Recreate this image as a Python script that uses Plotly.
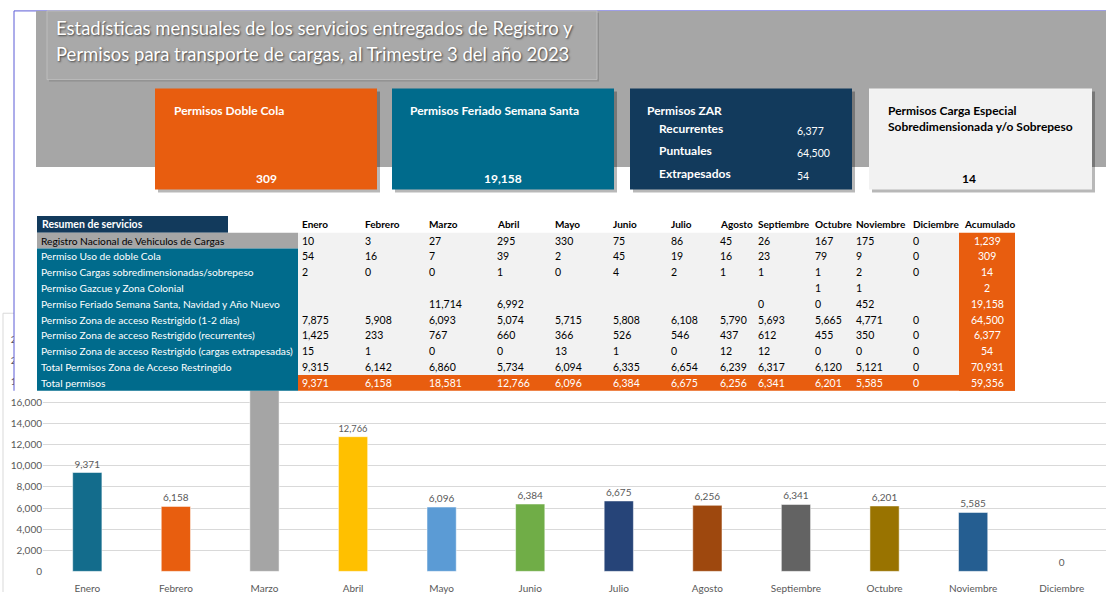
import plotly.graph_objects as go

W, H = 1106, 597

# ---------------- DATA ----------------
months = ["Enero", "Febrero", "Marzo", "Abril", "Mayo", "Junio", "Julio",
          "Agosto", "Septiembre", "Octubre", "Noviembre", "Diciembre"]

row_labels = [
    "Registro Nacional de Vehiculos de Cargas",
    "Permiso Uso de doble Cola",
    "Permiso Cargas sobredimensionadas/sobrepeso",
    "Permiso Gazcue y Zona Colonial",
    "Permiso Feriado Semana Santa, Navidad y Año Nuevo",
    "Permiso Zona de acceso Restrigido (1-2 días)",
    "Permiso Zona de acceso Restrigido (recurrentes)",
    "Permiso Zona de acceso Restrigido (cargas extrapesadas)",
    "Total Permisos Zona de Acceso Restringido",
    "Total permisos",
]

registro_nacional = [10, 3, 27, 295, 330, 75, 86, 45, 26, 167, 175, 0]
doble_cola = [54, 16, 7, 39, 2, 45, 19, 16, 23, 79, 9, 0]
sobredimensionadas = [2, 0, 0, 1, 0, 4, 2, 1, 1, 1, 2, 0]
gazcue = [None, None, None, None, None, None, None, None, None, 1, 1, None]
feriado = [None, None, 11714, 6992, None, None, None, None, 0, 0, 452, None]
zar_1_2_dias = [7875, 5908, 6093, 5074, 5715, 5808, 6108, 5790, 5693, 5665, 4771, 0]
zar_recurrentes = [1425, 233, 767, 660, 366, 526, 546, 437, 612, 455, 350, 0]
zar_extrapesadas = [15, 1, 0, 0, 13, 1, 0, 12, 12, 0, 0, 0]
total_zar = [9315, 6142, 6860, 5734, 6094, 6335, 6654, 6239, 6317, 6120, 5121, 0]
total_permisos = [9371, 6158, 18581, 12766, 6096, 6384, 6675, 6256, 6341, 6201, 5585, 0]

acumulado = [1239, 309, 14, 2, 19158, 64500, 6377, 54, 70931, 59356]

title_lines = ["Estadísticas mensuales de los servicios entregados de Registro y",
               "Permisos para transporte de cargas, al Trimestre 3 del año 2023"]

# ---------------- STYLE ----------------
FONT = "Lato, sans-serif"
bar_colors = ["#136C8C", "#E85E0F", "#A5A5A5", "#FFC000", "#5B9BD5", "#70AD47",
              "#264478", "#9E480E", "#636363", "#997300", "#255E91", "#698ED0"]
ORANGE = "#E85D0F"
TEAL = "#006B8C"
NAVY = "#123A5C"
PANEL = "#A6A6A6"
LIGHT = "#F2F2F2"


def px(x):
    return x / W


def py(y):
    return 1 - y / H


shapes = []
annotations = []


def rect(x0, y0, x1, y1, fill, line_color=None, line_width=0, layer="above"):
    shapes.append(dict(type="rect", xref="paper", yref="paper",
                       x0=px(x0), x1=px(x1), y0=py(y1), y1=py(y0),
                       fillcolor=fill, layer=layer,
                       line=dict(color=line_color or fill, width=line_width)))


def line(x0, y0, x1, y1, color, width=1, layer="above"):
    shapes.append(dict(type="line", xref="paper", yref="paper",
                       x0=px(x0), x1=px(x1), y0=py(y0), y1=py(y1),
                       layer=layer, line=dict(color=color, width=width)))


def text(x, y, s, size=11, color="black", bold=False, anchor="left", family=FONT, shadow=None):
    f = dict(family=family, size=size, color=color)
    if bold:
        f["weight"] = "bold"
    if shadow:
        f["shadow"] = shadow
    annotations.append(dict(xref="paper", yref="paper", x=px(x), y=py(y),
                            text=s, showarrow=False, xanchor=anchor, yanchor="middle",
                            font=f))


def fmt(v):
    return "" if v is None else f"{v:,}"


# ---------------- CHART ----------------
fig = go.Figure()
fig.add_trace(go.Bar(
    x=months, y=total_permisos,
    marker=dict(color=bar_colors, line=dict(color="rgba(255,255,255,0.5)", width=1)),
    text=[fmt(v) for v in total_permisos], textposition="outside",
    textfont=dict(family=FONT, size=10, color="#595959"),
    cliponaxis=False, hoverinfo="skip",
))

# chart frame (left edge visible)
line(3, 313, 3, 597, "#D9D9D9", 1, layer="below")
line(3, 313, 14, 313, "#D9D9D9", 1, layer="below")

# ---------------- DASHBOARD (covers the chart top) ----------------
rect(14, 5, W + 2, 392, "white")
line(14, 5, 14, 392, "#5B5BD6", 1)
line(14, 5, W + 2, 5, "#5B5BD6", 1)

# gray panel
rect(36, 5, W + 2, 164, PANEL)
# title box
rect(49, 7, 599, 77, "#8E8E8E")
rect(47, 5, 597, 75, "#A9A9A9", "#BDBDBD", 1)
text(54, 22, title_lines[0], size=18.5, color="white", family="Lato", shadow="1px 1px 2px #404040")
text(54, 49, title_lines[1], size=18.5, color="white", family="Lato", shadow="1px 1px 2px #404040")

# cards
cards = [(155, 377, ORANGE), (392, 614, TEAL), (630, 852, NAVY), (869, 1092, LIGHT)]
for x0, x1, c in cards:
    rect(x0 + 3, 87, x1 + 3, 190, "rgba(0,0,0,0.28)")
    rect(x0, 84, x1, 187, c)

text(172, 106, "Permisos Doble Cola", 12, "white", True)
text(266, 176, fmt(acumulado[1]), 12, "white", True, "center")
text(408, 106, "Permisos Feriado Semana Santa", 12, "white", True)
text(503, 176, fmt(acumulado[4]), 12, "white", True, "center")
text(645, 106, "Permisos ZAR", 12, "white", True)
text(657, 125, "Recurrentes", 12, "white", True)
text(657, 147, "Puntuales", 12, "white", True)
text(657, 171, "Extrapesados", 12, "white", True)
text(795, 127, fmt(acumulado[6]), 10.5, "white")
text(795, 150, fmt(acumulado[5]), 10.5, "white")
text(795, 173, fmt(acumulado[7]), 10.5, "white")
text(886, 106, "Permisos Carga Especial", 12, "black", True)
text(886, 123, "Sobredimensionada y/o Sobrepeso", 12, "black", True)
text(969, 176, fmt(acumulado[2]), 12, "black", True, "center")

# ---------------- TABLE ----------------
col_x = [300, 363, 427, 495, 553, 611, 669, 718, 756, 813, 854, 911]
acc_x0, acc_x1 = 959, 1015
row_top = 231
row_h = 16.1
n_rows = len(row_labels)
tbl_bottom = row_top + n_rows * row_h

rect(37, 214, 228, 231, NAVY)
text(40, 222.5, "Resumen de servicios", 10.5, "white", True)
for x, m in zip(col_x, months):
    text(x, 222.5, m, 10, "black", True)
text(962, 222.5, "Acumulado", 10, "black", True)

# label column backgrounds
rect(37, row_top, 298, row_top + row_h, PANEL)
rect(37, row_top + row_h, 298, tbl_bottom, TEAL)
# data area
rect(298, row_top, acc_x0, row_top + 9 * row_h, LIGHT)
rect(298, row_top + 9 * row_h, acc_x1, tbl_bottom, ORANGE)
rect(acc_x0, row_top, acc_x1, tbl_bottom, ORANGE)

rows = [registro_nacional, doble_cola, sobredimensionadas, gazcue, feriado,
        zar_1_2_dias, zar_recurrentes, zar_extrapesadas, total_zar, total_permisos]

for i, (lab, vals) in enumerate(zip(row_labels, rows)):
    yc = row_top + (i + 0.5) * row_h
    text(39, yc, lab, 10.2, "black" if i == 0 else "white")
    vcol = "white" if i == n_rows - 1 else "black"
    for x, v in zip(col_x, vals):
        if v is not None:
            text(x, yc, fmt(v), 10.5, vcol)
    text((acc_x0 + acc_x1) / 2, yc, fmt(acumulado[i]), 10.5, "white", anchor="center")

fig.update_layout(
    width=W, height=H,
    margin=dict(l=0, r=0, t=0, b=0),
    paper_bgcolor="white", plot_bgcolor="white",
    showlegend=False,
    bargap=0.67,
    xaxis=dict(domain=[px(43), 1.0], showgrid=False, showline=False, ticks="",
               tickfont=dict(family=FONT, size=10, color="#595959"), ticklabelstandoff=10),
    yaxis=dict(domain=[py(576), py(339.5)], range=[0, 22000], dtick=2000,
               tickformat=",", gridcolor="#D9D9D9", gridwidth=1, zeroline=False,
               showline=False, ticks="",
               tickfont=dict(family=FONT, size=10, color="#595959")),
    shapes=shapes,
    annotations=annotations,
)

fig.write_html("out.html", config={"displayModeBar": False},
               post_script="document.body.style.margin='0';")
